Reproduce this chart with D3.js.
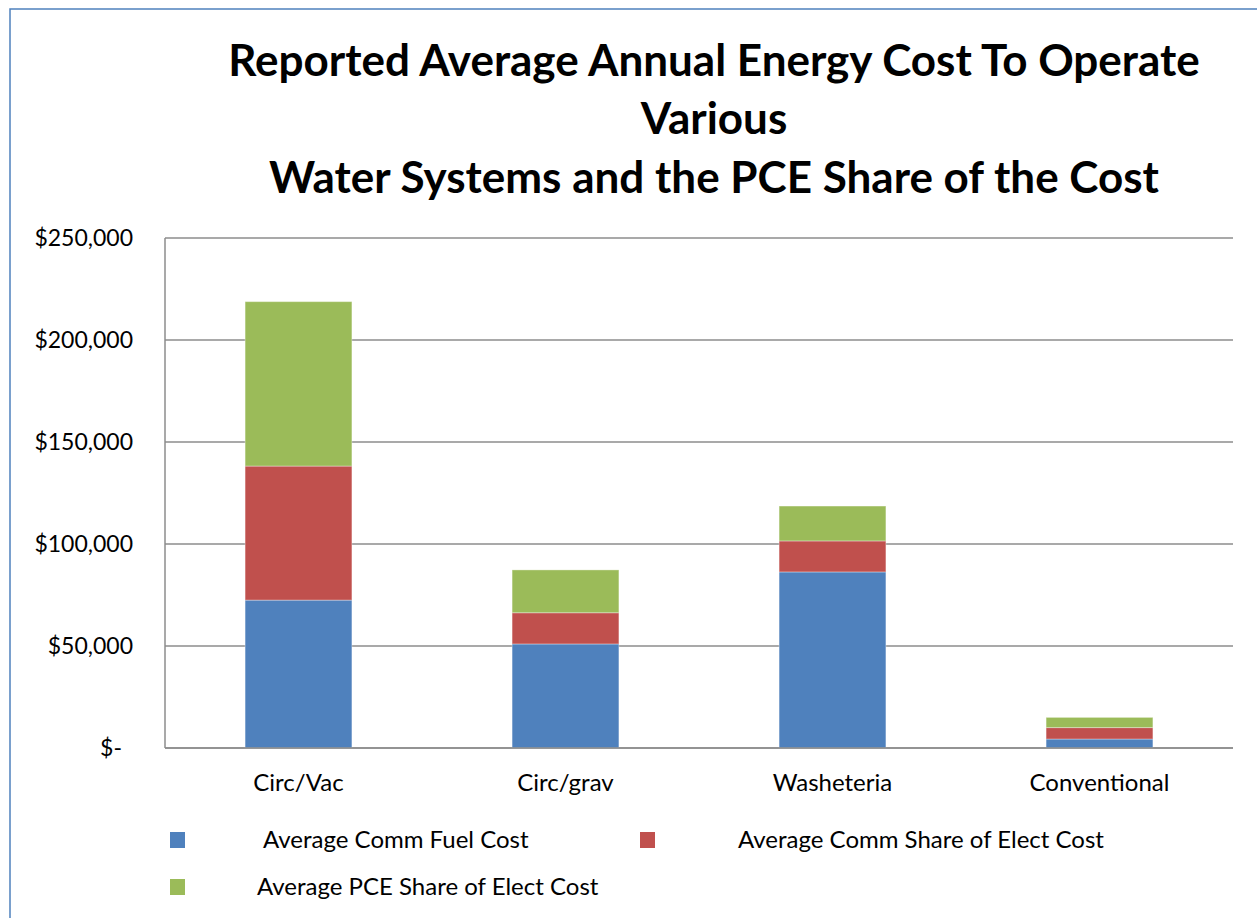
<!DOCTYPE html>
<html lang="en">

<head>
    <meta charset="utf-8">
    <title>Reported Average Annual Energy Cost</title>
    <script type="text/javascript" src="https://cdn.jsdelivr.net/npm/d3@7"></script>
    <style type="text/css">
    body {
        margin: 0;
        background: white;
    }

    text {
        font-family: Lato, "Open Sans", sans-serif;
        fill: black;
    }

    .title {
        font-size: 44px;
        font-weight: bold;
        text-anchor: middle;
    }

    .grid line {
        stroke: #8c8c8c;
        stroke-width: 1.5;
    }
    </style>
</head>

<body>
    <script type="text/javascript">
    //data
    var categories = ['Circ/Vac', 'Circ/grav', 'Washeteria', 'Conventional'];
    var seriesNames = ['Average Comm Fuel Cost', 'Average Comm Share of Elect Cost', 'Average PCE Share of Elect Cost'];
    var fuelCost = [72500, 51000, 86300, 4400];
    var commElectCost = [65700, 15300, 15200, 5600];
    var pceElectCost = [80600, 21000, 17100, 5000];
    var yTicks = [0, 50000, 100000, 150000, 200000, 250000];
    var titleLines = ['Reported Average Annual Energy Cost To Operate', 'Various', 'Water Systems and the PCE Share of the Cost'];

    var colors = ['#4f81bd', '#c0504d', '#9bbb59'];

    //width and height
    var w = 1257;
    var h = 918;
    var plot = { left: 165, right: 1233, top: 238, bottom: 748 };

    var svg = d3.select('body')
        .append('svg')
        .attr('width', w)
        .attr('height', h);

    //outer frame
    svg.append('rect')
        .attr('x', 10)
        .attr('y', 9)
        .attr('width', w + 20)
        .attr('height', h + 20)
        .attr('fill', 'white')
        .attr('stroke', '#4f81bd')
        .attr('stroke-width', 1.5);

    //title
    var baselines = [76, 134, 193];
    svg.selectAll('.title')
        .data(titleLines)
        .enter()
        .append('text')
        .attr('class', 'title')
        .attr('x', 714)
        .attr('y', function(d, i) { return baselines[i]; })
        .text(function(d) { return d; });

    //scales
    var x = d3.scaleBand()
        .domain(categories)
        .range([plot.left, plot.right])
        .paddingInner(0.6)
        .paddingOuter(0.3);

    var y = d3.scaleLinear()
        .domain([0, 250000])
        .range([plot.bottom, plot.top]);

    var moneyFormat = function(v) {
        return v === 0 ? '$-' : '$' + d3.format(',')(v);
    };

    //gridlines
    var grid = svg.append('g')
        .attr('class', 'grid');

    grid.selectAll('line')
        .data(yTicks)
        .enter()
        .append('line')
        .attr('x1', plot.left)
        .attr('x2', plot.right)
        .attr('y1', function(d) { return y(d); })
        .attr('y2', function(d) { return y(d); });

    grid.append('line')
        .attr('x1', plot.left)
        .attr('x2', plot.left)
        .attr('y1', plot.top)
        .attr('y2', plot.bottom);

    //y labels
    svg.selectAll('.ylabel')
        .data(yTicks)
        .enter()
        .append('text')
        .attr('class', 'ylabel')
        .attr('x', function(d) { return d === 0 ? 122 : 133; })
        .attr('y', function(d) { return y(d); })
        .attr('dy', '0.35em')
        .attr('text-anchor', 'end')
        .style('font-size', '23px')
        .text(moneyFormat);

    //stack
    var rows = categories.map(function(c, i) {
        return { cat: c, s0: fuelCost[i], s1: commElectCost[i], s2: pceElectCost[i] };
    });

    var stack = d3.stack()
        .keys(['s0', 's1', 's2']);

    var layers = svg.selectAll('.layer')
        .data(stack(rows))
        .enter()
        .append('g')
        .attr('class', 'layer')
        .attr('fill', function(d, i) { return colors[i]; });

    layers.selectAll('rect')
        .data(function(d) { return d; })
        .enter()
        .append('rect')
        .attr('x', function(d) { return x(d.data.cat); })
        .attr('width', x.bandwidth())
        .attr('y', function(d) { return y(d[1]); })
        .attr('height', function(d) { return y(d[0]) - y(d[1]); })
        .attr('stroke', 'white')
        .attr('stroke-opacity', 0.35)
        .attr('stroke-width', 1);

    //bottom axis line on top of bars
    svg.append('line')
        .attr('x1', plot.left)
        .attr('x2', plot.right)
        .attr('y1', plot.bottom)
        .attr('y2', plot.bottom)
        .attr('stroke', '#8c8c8c')
        .attr('stroke-width', 1.5);

    //category labels
    svg.selectAll('.xlabel')
        .data(categories)
        .enter()
        .append('text')
        .attr('class', 'xlabel')
        .attr('x', function(d) { return x(d) + x.bandwidth() / 2; })
        .attr('y', 783)
        .attr('dy', '0.35em')
        .attr('text-anchor', 'middle')
        .style('font-size', '24px')
        .text(function(d) { return d; });

    //legend
    var legendPos = [
        { sx: 170, tx: 263, y: 840 },
        { sx: 640, tx: 738, y: 840 },
        { sx: 170, tx: 257, y: 887 }
    ];

    var legend = svg.selectAll('.legend')
        .data(seriesNames)
        .enter()
        .append('g')
        .attr('class', 'legend');

    legend.append('rect')
        .attr('x', function(d, i) { return legendPos[i].sx; })
        .attr('y', function(d, i) { return legendPos[i].y - 8; })
        .attr('width', 15)
        .attr('height', 16)
        .attr('fill', function(d, i) { return colors[i]; });

    legend.append('text')
        .attr('x', function(d, i) { return legendPos[i].tx; })
        .attr('y', function(d, i) { return legendPos[i].y; })
        .attr('dy', '0.35em')
        .style('font-size', '24px')
        .text(function(d) { return d; });
    </script>
</body>

</html>
